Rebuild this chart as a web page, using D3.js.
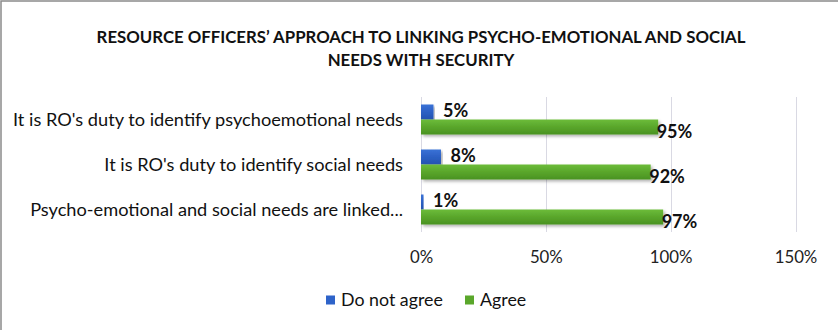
<!DOCTYPE html>
<html>
<head>
<meta charset="utf-8">
<script src="https://cdn.jsdelivr.net/npm/d3@7/dist/d3.min.js"></script>
<style>
  html, body { margin: 0; padding: 0; background: #fff; }
  svg { display: block; }
</style>
</head>
<body>
<svg id="chart" width="838" height="330"></svg>
<script>
// Survey statements (top to bottom) and the share of respondents per answer
const categories = [
  "It is RO's duty to identify psychoemotional needs",
  "It is RO's duty to identify social needs",
  "Psycho-emotional and social needs are linked..."
];
const seriesNames = ["Do not agree", "Agree"];
const doNotAgree = [5, 8, 1];
const agree = [95, 92, 97];
const xTicks = [0, 50, 100, 150];
const titleLines = [
  "RESOURCE OFFICERS\u2019 APPROACH TO LINKING PSYCHO-EMOTIONAL AND SOCIAL",
  "NEEDS WITH SECURITY"
];

const W = 838, H = 330;
const font = "Lato, 'Open Sans', 'Liberation Sans', sans-serif";
const svg = d3.select("#chart");

const defs = svg.append("defs");
function barGradient(id, top, mid, bottom) {
  const g = defs.append("linearGradient").attr("id", id)
    .attr("x1", 0).attr("y1", 0).attr("x2", 0).attr("y2", 1);
  g.append("stop").attr("offset", "0%").attr("stop-color", top);
  g.append("stop").attr("offset", "45%").attr("stop-color", mid);
  g.append("stop").attr("offset", "100%").attr("stop-color", bottom);
}
barGradient("gBlue", "#3a72d6", "#2d62c6", "#2453b0");
barGradient("gGreen", "#6cbc3a", "#5ba82c", "#4a9222");
const shadow = defs.append("filter").attr("id", "shadow")
  .attr("x", "-5%").attr("y", "-20%").attr("width", "115%").attr("height", "160%");
shadow.append("feDropShadow").attr("dx", 2).attr("dy", 2)
  .attr("stdDeviation", 1.5).attr("flood-color", "#000").attr("flood-opacity", 0.3);

// chart frame (right and bottom edges fall outside the canvas)
svg.append("rect").attr("x", 1).attr("y", 1)
  .attr("width", W + 10).attr("height", H + 10)
  .attr("fill", "#fff").attr("stroke", "#8a8a8a").attr("stroke-width", 1.5);

// title
svg.append("g").selectAll("text").data(titleLines).join("text")
  .attr("x", 421).attr("y", (d, i) => 43 + i * 23)
  .attr("text-anchor", "middle")
  .attr("font-family", font).attr("font-weight", "bold").attr("font-size", 16.8)
  .attr("fill", "#111").text(d => d);

const plot = { left: 421, right: 795.5, top: 97, bottom: 232 };
const x = d3.scaleLinear().domain([0, 150]).range([plot.left, plot.right]);
const y = d3.scaleBand().domain(categories).range([plot.top, plot.bottom]).paddingInner(0.333).paddingOuter(0.1667);
const sub = d3.scaleBand().domain(seriesNames).range([0, y.bandwidth()]);

// vertical gridlines
svg.append("g").selectAll("line").data(xTicks).join("line")
  .attr("x1", d => Math.round(x(d)) + 0.5).attr("x2", d => Math.round(x(d)) + 0.5)
  .attr("y1", plot.top).attr("y2", plot.bottom)
  .attr("stroke", "#d9d9e3").attr("stroke-width", 1);

// x axis tick labels
const xAxis = d3.axisBottom(x).tickValues(xTicks).tickFormat(d => d + "%").tickSize(0).tickPadding(0);
const xg = svg.append("g").attr("transform", `translate(0, 251)`).call(xAxis);
xg.select(".domain").remove();
xg.selectAll("text").attr("font-family", font).attr("font-size", 16.8).attr("fill", "#222").attr("dy", "0.71em");

// category labels
const yAxis = d3.axisLeft(y).tickSize(0).tickPadding(0);
const yg = svg.append("g").attr("transform", `translate(403, 0)`).call(yAxis);
yg.select(".domain").remove();
yg.selectAll("text").attr("font-family", font).attr("font-size", 18.2).attr("fill", "#111").attr("dy", "0.35em");

const rows = categories.map((c, i) => ({ cat: c, values: [doNotAgree[i], agree[i]] }));
const fills = ["url(#gBlue)", "url(#gGreen)"];

const rowG = svg.append("g").selectAll("g").data(rows).join("g")
  .attr("transform", d => `translate(0, ${y(d.cat)})`);

rowG.selectAll("rect").data(d => d.values.map((v, j) => ({ v, j })))
  .join("rect")
  .attr("x", x(0))
  .attr("y", d => sub(seriesNames[d.j]))
  .attr("width", d => x(d.v) - x(0))
  .attr("height", sub.bandwidth())
  .attr("fill", d => fills[d.j])
  .attr("filter", "url(#shadow)");

// value labels
rowG.selectAll("text.val").data(d => d.values.map((v, j) => ({ v, j })))
  .join("text").attr("class", "val")
  .attr("x", d => d.j === 0 ? x(d.v) + 9.5 : x(d.v) - 1.5)
  .attr("y", d => sub(seriesNames[d.j]) + sub.bandwidth() / 2 + (d.j === 0 ? -1 : 4.5))
  .attr("dy", "0.35em")
  .attr("font-family", font).attr("font-weight", "bold").attr("font-size", 18)
  .attr("fill", "#111")
  .text(d => d.v + "%");

// legend
const legendItems = [
  { name: seriesNames[0], color: "#2e63c9", x: 326 },
  { name: seriesNames[1], color: "#5aa72b", x: 465 }
];
const lg = svg.append("g").selectAll("g").data(legendItems).join("g")
  .attr("transform", d => `translate(${d.x}, 300)`);
lg.append("rect").attr("x", 0).attr("y", -4.5).attr("width", 9).attr("height", 9).attr("fill", d => d.color);
lg.append("text").attr("x", 15).attr("y", 0).attr("dy", "0.35em")
  .attr("font-family", font).attr("font-size", 17.8).attr("fill", "#111").text(d => d.name);
</script>
</body>
</html>
